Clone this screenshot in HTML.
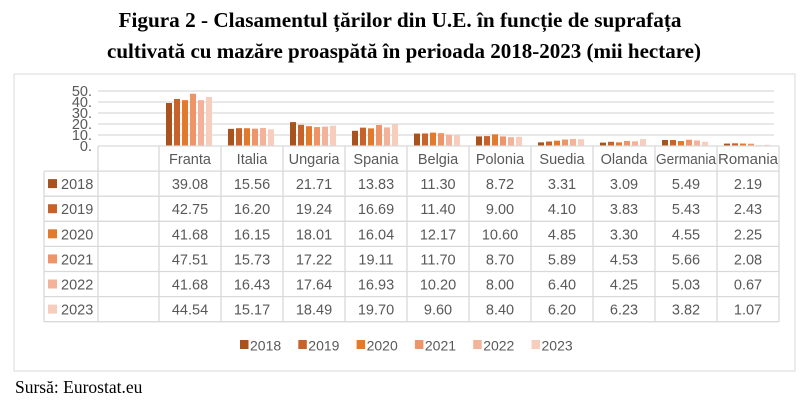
<!DOCTYPE html>
<html><head><meta charset="utf-8"><style>
html,body{margin:0;padding:0;background:#fff;}
svg{display:block;}
</style></head><body>
<svg width="800" height="411" viewBox="0 0 800 411" xmlns="http://www.w3.org/2000/svg">
<g font-family="Liberation Serif, serif" font-weight="bold" font-size="21" fill="#000" text-anchor="middle">
<text x="400" y="27" textLength="563" lengthAdjust="spacingAndGlyphs">Figura 2 - Clasamentul țărilor din U.E. în funcție de suprafața</text>
<text x="404" y="58" textLength="594" lengthAdjust="spacingAndGlyphs">cultivată cu mazăre proaspătă în perioada 2018-2023 (mii hectare)</text>
</g>
<rect x="14" y="74" width="781" height="297" fill="#fff" stroke="#d9d9d9" stroke-width="1"/>
<g stroke="#d9d9d9" stroke-width="1.3">
<line x1="98" x2="774" y1="91" y2="91"/><line x1="98" x2="774" y1="102" y2="102"/>
<line x1="98" x2="774" y1="113" y2="113"/><line x1="98" x2="774" y1="124" y2="124"/>
<line x1="98" x2="774" y1="135" y2="135"/>
</g>
<g font-family="Liberation Sans, sans-serif" font-size="14.5" fill="#595959" text-anchor="end">
<text x="92" y="96">50.</text><text x="92" y="107">40.</text><text x="92" y="118">30.</text>
<text x="92" y="129">20.</text><text x="92" y="140">10.</text><text x="92" y="151">0.</text>
</g>
<g id="bars"></g>
<g id="table" stroke="#d9d9d9" stroke-width="1.3" fill="none"></g>
<g id="ttext" font-family="Liberation Sans, sans-serif" font-size="14.5" fill="#595959"></g>
<g id="legend" font-family="Liberation Sans, sans-serif" font-size="14" fill="#595959"></g>
<text x="15" y="393" font-family="Liberation Serif, serif" font-size="17.5" fill="#000">Sursă: Eurostat.eu</text>
</svg>
<script>
var NS="http://www.w3.org/2000/svg";
function el(p,t,a,txt){var e=document.createElementNS(NS,t);for(var k in a)e.setAttribute(k,a[k]);if(txt!==undefined)e.textContent=txt;p.appendChild(e);return e;}
var cats=["Franta","Italia","Ungaria","Spania","Belgia","Polonia","Suedia","Olanda","Germania","Romania"];
var years=["2018","2019","2020","2021","2022","2023"];
var cols=["#A8531D","#C7632A","#E27A2E","#EE9468","#F3B39A","#F7CDBE"];
var d=[[39.08,15.56,21.71,13.83,11.30,8.72,3.31,3.09,5.49,2.19],
[42.75,16.20,19.24,16.69,11.40,9.00,4.10,3.83,5.43,2.43],
[41.68,16.15,18.01,16.04,12.17,10.60,4.85,3.30,4.55,2.25],
[47.51,15.73,17.22,19.11,11.70,8.70,5.89,4.53,5.66,2.08],
[41.68,16.43,17.64,16.93,10.20,8.00,6.40,4.25,5.03,0.67],
[44.54,15.17,18.49,19.70,9.60,8.40,6.20,6.23,3.82,1.07]];
var bars=document.getElementById("bars"),tb=document.getElementById("table"),tt=document.getElementById("ttext"),lg=document.getElementById("legend");
var L=159,W=62,base=146,rh=25.1;
for(var i=0;i<10;i++)for(var j=0;j<6;j++){var h=d[j][i]*1.1;el(bars,"rect",{x:L+W*i+7+8*j,y:base-h,width:6,height:h,fill:cols[j]});}
el(tb,"line",{x1:98,x2:779,y1:146,y2:146});
for(var r=1;r<=7;r++){var y=146+r*rh;el(tb,"line",{x1:44,x2:779,y1:y,y2:y});}
el(tb,"line",{x1:44,x2:44,y1:146+rh,y2:146+7*rh});
el(tb,"line",{x1:98,x2:98,y1:146,y2:146+7*rh});
for(var c=0;c<=10;c++){var x=L+W*c;el(tb,"line",{x1:x,x2:x,y1:146,y2:146+7*rh});}
for(var i=0;i<10;i++){var a={x:L+W*i+W/2,y:164,"text-anchor":"middle"};if(cats[i]=="Germania"||cats[i]=="Romania"){a.textLength=60;a.lengthAdjust="spacingAndGlyphs";}el(tt,"text",a,cats[i]);}
for(var j=0;j<6;j++){var y=146+(j+1)*rh;el(tt,"rect",{x:48,y:y+8,width:9,height:9,fill:cols[j]});el(tt,"text",{x:61,y:y+18},years[j]);
for(var i=0;i<10;i++)el(tt,"text",{x:L+W*i+W/2,y:y+18,"text-anchor":"middle"},d[j][i].toFixed(2));}
for(var j=0;j<6;j++){var x=240+58.3*j;el(lg,"rect",{x:x,y:340,width:8.5,height:9,fill:cols[j]});el(lg,"text",{x:x+10,y:350.5},years[j]);}
</script>
</body></html>
